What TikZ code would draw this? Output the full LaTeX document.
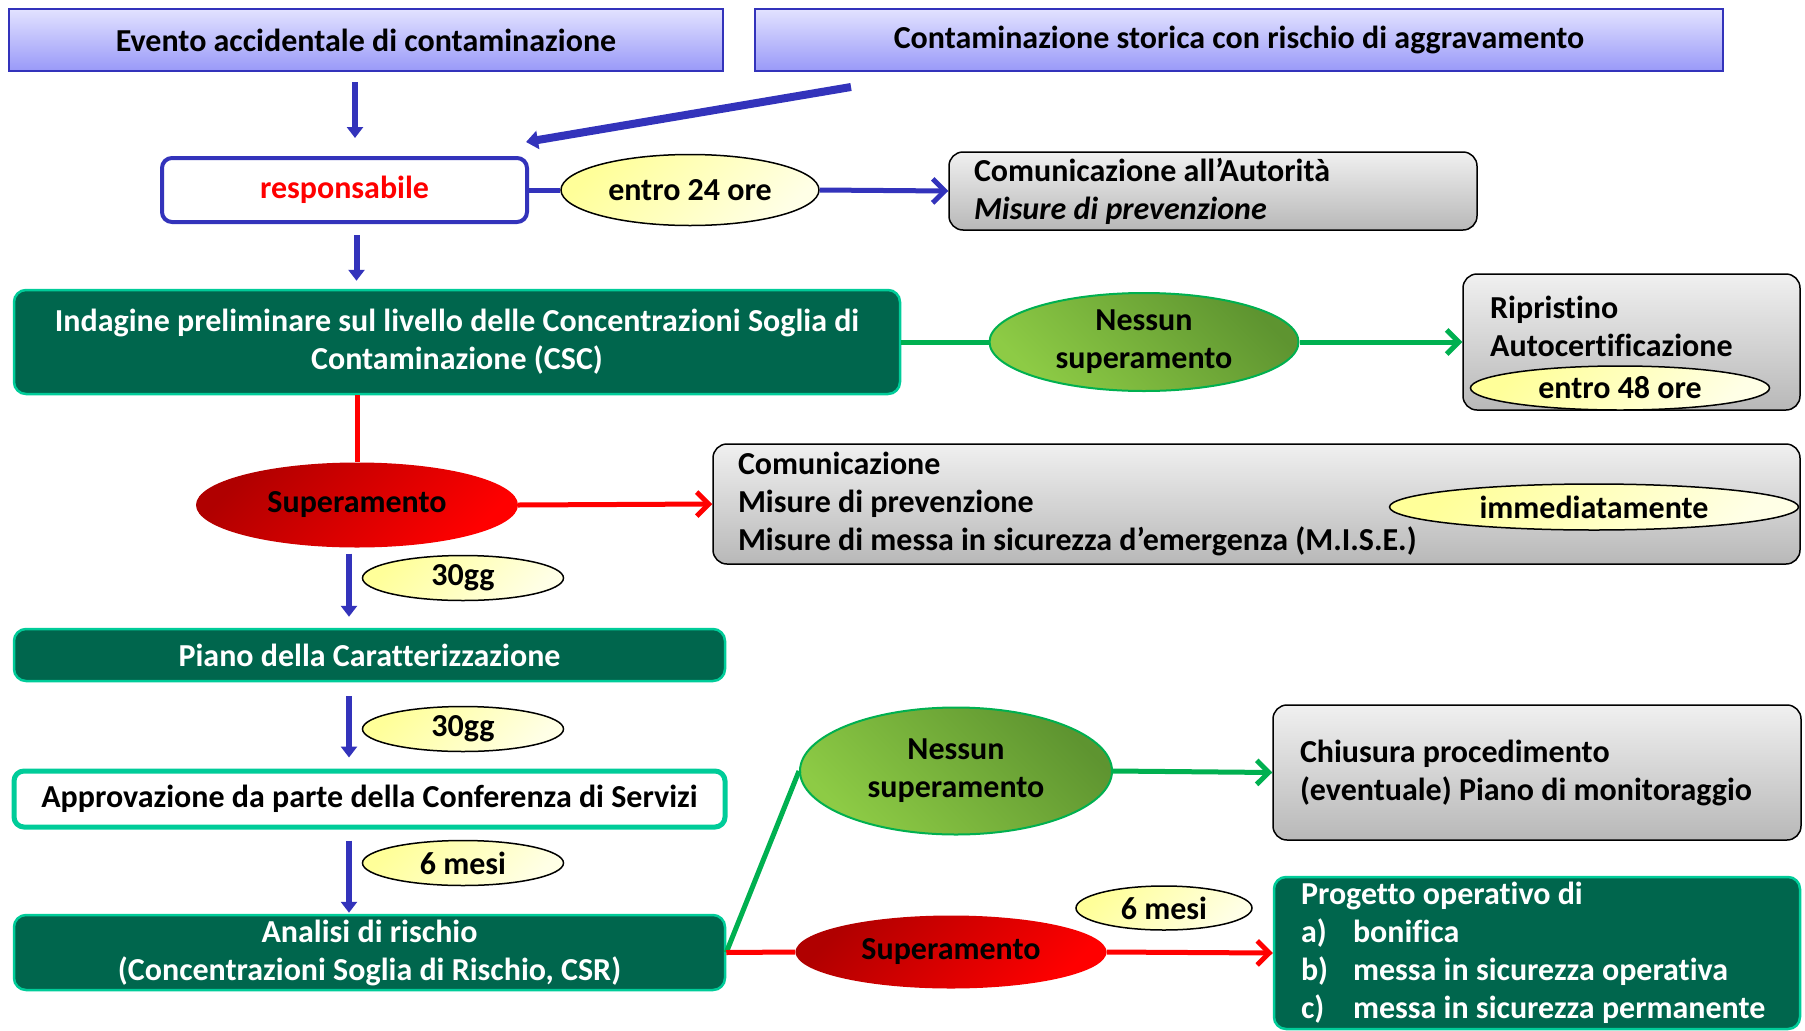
\documentclass[tikz,border=0pt]{standalone}
\usepackage{fontspec}
\setmainfont{Carlito}[Ligatures=NoCommon]
\usetikzlibrary{shapes.geometric,arrows.meta,calc}
\definecolor{bblue}{HTML}{3333BB}
\definecolor{lavtop}{HTML}{E2E2FF}
\definecolor{lavbot}{HTML}{9999F8}
\definecolor{dgreen}{HTML}{00664D}
\definecolor{tealb}{HTML}{00CC99}
\definecolor{graytop}{HTML}{F0F0F0}
\definecolor{graybot}{HTML}{B8B8B8}
\definecolor{yelA}{HTML}{FFFF99}
\definecolor{yelB}{HTML}{FFFFE6}
\definecolor{redA}{HTML}{B00000}
\definecolor{redB}{HTML}{FF0000}
\definecolor{grA}{HTML}{5E9430}
\definecolor{grB}{HTML}{8DCB45}
\definecolor{lgreen}{HTML}{00B050}
\definecolor{lred}{HTML}{FF0000}
\begin{document}
\begin{tikzpicture}[x=1pt,y=-1pt,
  every node/.style={font=\fontsize{32}{38}\selectfont\bfseries, inner sep=0pt},
  lav/.style={rectangle, draw=bblue, line width=2pt, top color=lavtop, bottom color=lavbot},
  gbox/.style={rectangle, rounded corners=12pt, draw=tealb, line width=2.5pt, fill=dgreen, text=white, align=center},
  graybox/.style={rectangle, rounded corners=14pt, draw=black, line width=1.5pt, top color=graytop, bottom color=graybot, align=flush left, inner xsep=25pt},
  yell/.style={ellipse, draw=black, line width=1.5pt, top color=yelA, bottom color=yelB, shading angle=45},
  redell/.style={ellipse, draw=none, top color=redA, bottom color=redB, shading angle=45},
  grell/.style={ellipse, draw=lgreen, line width=2pt, top color=grA, bottom color=grB, shading angle=-45, align=center},
  barrow/.style={draw=bblue, line width=6pt, -{Triangle[width=16pt,length=11pt]}},
  bline/.style={draw=bblue, line width=5pt},
  gline/.style={draw=lgreen, line width=5pt},
  rline/.style={draw=lred, line width=5pt},
  chev/.style={-{Straight Barb[width=24pt,length=12pt,line width=5pt]}},
]
\useasboundingbox (0,0) rectangle (1805,1031);

% top boxes
\node[lav, minimum width=714pt, minimum height=62pt] (ev) at (366,40) {Evento accidentale di contaminazione};
\node[lav, minimum width=968pt, minimum height=62pt] (cs) at (1239,40) {Contaminazione storica con rischio di aggravamento};

% responsabile
\node[rectangle, rounded corners=10pt, draw=bblue, line width=4pt, fill=white, text=red, minimum width=365pt, minimum height=64pt] (resp) at (344.5,190) {responsabile};
\node[yell, minimum width=258pt, minimum height=71pt] (e24) at (690,190) {entro 24 ore};
\node[graybox, minimum height=78pt, text width=478pt] (com) at (1213,191) {Comunicazione all’Autorità\\\textit{Misure di prevenzione}};

\draw[barrow, shorten <=10pt, shorten >=18pt] ([xshift=-11pt]ev.south) -- ([xshift=-11pt]ev.south |- resp.north);
\draw[draw=bblue, line width=8pt, -{Triangle[width=18pt,length=12pt]}] ([xshift=97pt,yshift=-15pt]cs.south west) -- ([xshift=-3pt,yshift=14pt]resp.north east);
\draw[bline] (resp.east) -- (e24.west);
\draw[bline, chev] (e24.east) -- (com.west);

% indagine
\node[gbox, minimum width=886pt, minimum height=104pt] (ind) at (457,342) {Indagine preliminare sul livello delle Concentrazioni Soglia di\\Contaminazione (CSC)};
\draw[barrow, shorten <=11pt, shorten >=8pt] ([xshift=12pt]resp.south) -- ([xshift=12pt]resp.south |- ind.north);

\node[grell, minimum width=309pt, minimum height=98pt] (ns1) at (1144,342) {Nessun\\superamento};
\node[graybox, minimum width=337pt, minimum height=136pt] (rip) at (1631.5,342) {};
\node[anchor=west, align=flush left] (riptxt) at (1490,326) {Ripristino\\Autocertificazione};
\node[yell, minimum width=299pt, minimum height=44pt] (e48) at (1620,388) {entro 48 ore};
\draw[gline] (ind.east) -- (ns1.west);
\draw[gline, chev] (ns1.east) -- (rip.west);

% superamento 1
\node[redell, minimum width=322pt, minimum height=85pt] (sup1) at (357,505) {Superamento};
\draw[rline] (sup1.north |- ind.south) -- (sup1.north);
\node[graybox, minimum height=120pt, text width=1037pt] (mis) at (1256.5,504) {Comunicazione\\Misure di prevenzione\\Misure di messa in sicurezza d’emergenza (M.I.S.E.)};
\node[yell, minimum width=409pt, minimum height=46pt] (imm) at (1594,507) {immediatamente};
\draw[rline, chev] (sup1.east) -- (mis.west);

% piano
\node[gbox, minimum width=711pt, minimum height=52pt] (piano) at (369.5,655) {Piano della Caratterizzazione};
\draw[barrow, shorten <=6pt, shorten >=11pt] ([xshift=-8pt]sup1.south) -- ([xshift=-8pt]sup1.south |- piano.north);
\node[yell, minimum width=201pt, minimum height=45pt] (g1) at (463,578) {30gg};

% approvazione
\node[rectangle, rounded corners=10pt, draw=tealb, line width=5pt, fill=white, minimum width=711pt, minimum height=56pt] (appr) at (369.5,799) {Approvazione da parte della Conferenza di Servizi};
\draw[barrow, shorten <=14pt, shorten >=11pt] ([xshift=-20.5pt]piano.south) -- ([xshift=-20.5pt]piano.south |- appr.north);
\node[yell, minimum width=201pt, minimum height=45pt] (g2) at (463,729) {30gg};

% analisi
\node[gbox, minimum width=711pt, minimum height=75pt] (ana) at (369.5,952.5) {Analisi di rischio\\(Concentrazioni Soglia di Rischio, CSR)};
\draw[barrow, shorten <=11pt, shorten >=1pt] ([xshift=-20.5pt]appr.south) -- ([xshift=-20.5pt]appr.south |- ana.north);
\node[yell, minimum width=201pt, minimum height=45pt] (m6a) at (463,863) {6 mesi};

% right bottom
\node[grell, minimum width=312pt, minimum height=127pt] (ns2) at (956,771) {Nessun\\superamento};
\node[graybox, minimum height=135pt, text width=474pt, inner xsep=27pt] (chi) at (1537,772.5) {Chiusura procedimento\\(eventuale) Piano di monitoraggio};
\node[redell, minimum width=311pt, minimum height=73pt] (sup2) at (951,952) {Superamento};
\node[yell, minimum width=176pt, minimum height=44pt] (m6b) at (1164,908) {6 mesi};
\node[gbox, align=flush left, minimum height=152pt, text width=472pt, inner xsep=27pt] (prog) at (1537,953) {Progetto operativo di\\\makebox[52pt][l]{a)}bonifica\\\makebox[52pt][l]{b)}messa in sicurezza operativa\\\makebox[52pt][l]{c)}messa in sicurezza permanente};

\draw[gline] (ana.east) -- (ns2.west);
\draw[gline, chev] (ns2.east) -- (chi.west);
\draw[rline] (ana.east) -- (sup2.west);
\draw[rline, chev] (sup2.east) -- (prog.west);
\end{tikzpicture}
\end{document}
